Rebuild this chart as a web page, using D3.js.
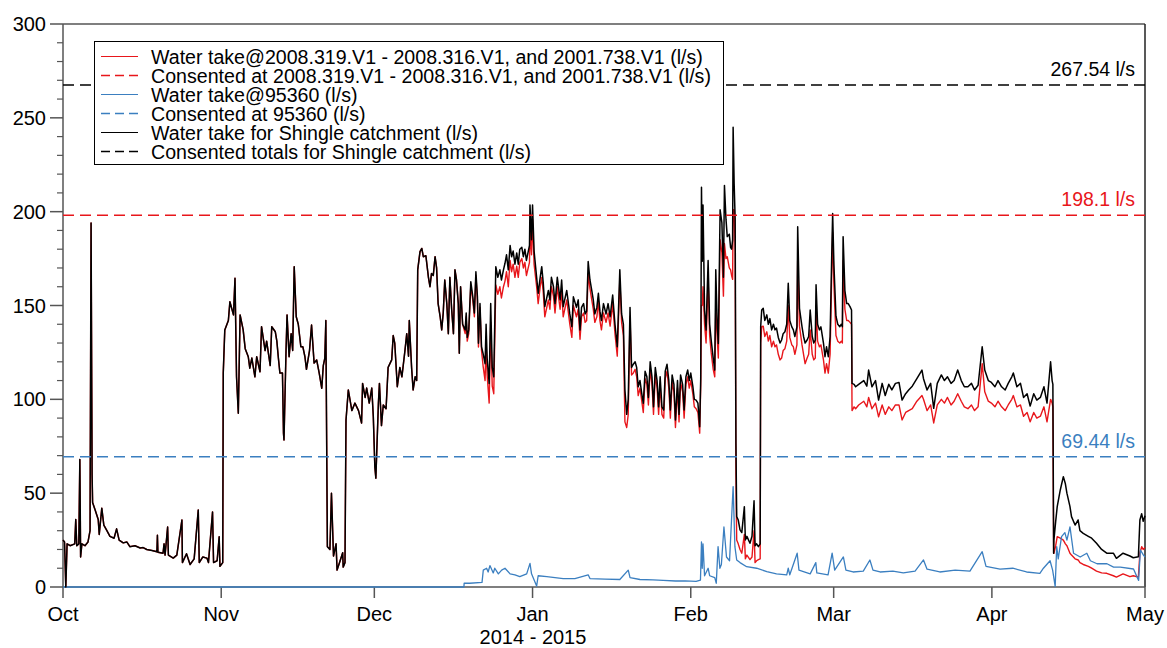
<!DOCTYPE html>
<html>
<head>
<meta charset="utf-8">
<script src="https://cdn.jsdelivr.net/npm/d3@7"></script>
<style>
  html, body { margin: 0; padding: 0; background: #fff; }
  svg { display: block; font-family: "Liberation Sans", Arial, Helvetica, sans-serif; }
</style>
</head>
<body>
<svg id="chart" width="1167" height="648"></svg>
<script>
// ---------------- DATA ----------------
// Days elapsed since 1 Oct 2014 (shared by the total and the red series)
const days = [
  // Oct
  0,0.3,0.55,0.8,1.4,2.3,2.5,2.7,3.1,3.3,
  3.45,3.7,4.3,4.9,5.3,5.5,5.7,5.8,6.3,6.9,
  7.1,7.6,8.0,8.6,9.2,10.0,10.5,11.0,11.8,12.5,
  13.1,14.1,15.1,15.7,16.4,17.4,18.4,18.5,18.6,19.6,
  19.8,20.0,20.5,20.65,21.6,22.3,23.3,23.4,24.2,24.9,
  25.7,26.5,26.7,27.4,28.2,28.5,29.3,29.5,30.2,30.6,
  30.75,31.3,
  // Nov
  31.4,31.7,32.4,32.7,33.4,33.7,34.0,34.35,34.7,35.3,
  35.7,36.3,36.6,37.0,37.6,37.95,38.6,38.9,39.6,39.9,
  40.6,40.9,41.6,41.9,42.2,42.5,43.0,43.2,43.3,43.7,
  43.9,44.3,44.7,45.0,45.3,45.7,46.1,46.6,47.0,47.4,
  47.7,48.3,48.7,49.2,49.7,50.2,50.7,51.0,51.3,51.5,
  51.8,52.3,52.6,53.0,53.5,53.7,54.3,54.8,54.9,55.25,
  55.45,55.9,56.6,57.2,57.9,58.5,58.7,59.2,59.5,60.0,
  60.5,60.8,61.1,61.3,61.8,62.0,62.4,62.75,63.3,63.7,
  // Dec (part 1)
  64.4,64.7,65.0,65.5,66.0,66.4,67.0,67.35,67.7,67.85,
  68.3,68.6,69.0,69.3,69.5,69.95,70.3,70.6,71.1,71.6,
  71.9,72.2,72.55,72.9,73.2,73.5,73.9,74.2,74.5,74.8,
  75.2,75.5,75.8,76.15,76.5,76.8,77.1,77.45,77.65,77.9,
  78.3,
  // Dec (part 2)
  78.8,79.0,79.2,79.5,79.9,80.3,80.6,80.9,81.2,81.4,
  81.7,82.0,82.3,82.7,82.9,83.1,83.5,83.8,84.1,84.4,
  84.8,85.2,85.6,85.9,86.3,86.6,86.9,87.25,87.6,87.9,
  88.2,88.55,88.9,89.2,89.5,89.9,90.2,90.5,90.8,91.4,
  91.5,91.8,92.0,92.3,92.8,
  // Jan
  93.1,93.5,93.8,94.1,94.4,95.1,95.4,95.7,96.1,96.4,
  96.85,97.4,97.7,98.0,98.7,99.3,99.7,100.0,100.6,100.95,
  101.3,101.6,102.0,102.3,102.6,102.9,103.25,103.6,103.9,104.2,
  104.6,104.9,105.2,105.5,105.9,106.4,106.8,107.2,107.7,108.15,
  108.6,109.1,109.45,109.8,110.1,110.45,110.75,111.1,111.4,111.75,
  112.1,112.4,112.7,113.05,113.4,113.7,114.05,114.4,114.7,115.05,
  115.4,115.7,116.05,116.4,116.7,117.0,117.35,117.7,118.0,118.35,
  118.7,119.0,119.35,119.7,120.0,120.4,120.7,121.0,121.4,121.7,
  122.05,122.4,122.7,123.0,123.4,123.7,124.05,124.4,124.75,
  // Feb
  124.95,125.1,125.25,125.4,125.7,126.0,126.4,126.7,127.0,127.4,
  127.7,127.9,128.2,128.4,128.75,129.1,129.4,129.6,129.9,130.15,
  130.55,130.8,131.0,131.2,131.3,131.5,131.7,131.85,132.0,132.3,
  132.65,133.0,133.5,133.7,134.0,134.6,135.0,135.4,135.6,135.9,
  136.25,136.6,136.7,136.9,137.2,137.5,137.9,138.2,138.5,138.85,
  139.2,139.5,139.8,140.15,140.5,140.8,141.1,141.45,141.8,142.1,
  142.4,142.8,143.1,143.4,143.8,143.95,144.3,144.8,145.1,145.4,
  145.8,146.1,146.4,146.8,147.1,147.4,147.55,147.85,148.2,148.5,
  149.0,149.3,149.6,149.95,150.3,150.6,150.8,151.05,151.45,151.8,
  152.2,152.5,152.7,152.85,153.2,153.55,153.85,154.2,154.5,
  // Mar - Apr
  154.6,155.0,155.3,155.9,156.9,157.5,157.85,158.5,159.2,159.8,
  160.5,161.1,161.8,162.4,163.1,163.8,164.4,165.1,165.7,166.4,
  167.3,168.3,168.6,169.3,170.0,170.6,171.3,172.1,172.7,173.3,
  174.0,174.6,175.3,176.0,176.6,177.3,178.0,178.6,179.3,180.1,
  180.6,181.3,181.9,182.6,183.2,183.9,184.6,185.2,185.9,186.2,
  186.9,187.6,188.2,188.9,189.5,190.2,190.8,191.5,192.2,192.8,
  193.5,193.8,193.95,
  // late Apr
  194.1,194.15,194.5,194.8,195.4,196.0,196.4,196.7,197.3,197.6,
  198.3,198.9,199.25,199.9,200.9,201.55,202.5,203.5,204.5,205.8,
  206.4,207.7,209.05,209.7,210.7,211.0,211.35,211.65,212.0
];

// Water take for Shingle catchment (l/s)
const totalTake = [
  25,24,0,23,22,23,36,22,23,68,
  16,23,22,24,30,194,60,45,41,36,
  28,42,33,30,27,26,31,25,23.5,24,
  21.5,22,20.8,21,20,19.5,18.8,27.6,18.5,18,
  23,17,32,17,15.4,17,35.7,13,17.7,12,
  15,41,13,16,15.4,13,40,13,14,26.8,
  11,13,
  114,137,142,152,145,164.5,112,92.6,145,137,
  127,122.7,116.6,122,112,122.7,114.7,138.7,126,131,
  118,138.7,136,131,122,114,114,82,78.3,126,
  145,122.7,135,126,170.7,144,140,128,128,122.7,
  116,126,139.6,119.3,121,114,105.9,118,122,142,
  21.5,20,50,16.5,23,9,14,18.3,10.6,13,
  89,105,94,98,94,87.4,108.5,101,106,98,
  106,90.7,64,58,98,108.5,86,97,95,117,
  121,134,130,106.7,117,112,126,135,123,142,
  117,105,112,110,169,178.7,180.4,176,176.5,165,
  160,167,166,176,170,151,144,137,146,163.6,
  151,135,165,148,135,169,163.6,151,124.5,160,
  140,
  137,146,133,137,162.7,154.6,146,168,154.6,129.9,
  151,128,124.5,119,140,122,108.5,151,117,112,
  170.7,165,169,163.6,169,172.5,177,169,182,176,
  179,172,178,172,180,181,176,180,174,182,
  203.5,185,203.5,179,165,
  156.5,165,170.7,162,149.4,158,153,165,160,151,
  165,153,163.6,149.4,158,145.5,138.7,154.6,149,153,
  137,149,151,145.5,147,173.4,163.6,158,153,145.5,
  149,156.5,147,142,151,145.5,151,144,155.6,140,
  128,169,145.5,140,105,92,100,149,117,118.7,
  120,117,106.7,110,103,97.9,115,112,101,120,
  112,96,117,110,96,112,96,94.3,115,118.7,
  110,94.3,113,108,89,110,92,113,108,94.3,
  112,115.6,110,114,107,100,99.6,98,85.4,
  111,213,173.6,203.5,147.6,137,174,140,131.6,122,
  115.6,169,138.6,129.8,201,194,165,214,196,186.7,
  188,181,180,185,245,215,196,76.6,37.5,35.7,
  30.4,29,42.8,25,27,23.3,27,46,22,23,
  21.5,23,138.7,147.6,148.5,142,145,140,143,137,
  140,137,138,133,130,131.6,135,136,140,161.8,
  142,138.6,137,133.5,138.6,192,148.5,138.6,133.5,130,
  131.6,133.5,147.6,133.5,130,131.6,161,140,137,138.6,
  130,122.7,128,122.7,133.5,174,199,171.6,144.3,140,
  138.7,140,138.7,186.7,158,151,151,149.4,147.6,
  108.5,108,106.7,108,110,107,115.6,106.7,110,99.6,
  108.5,102,108,105,108.5,109,99.6,103,105,107,
  111,115.6,111,105,108.5,95.2,108.5,113,110,112,
  108.5,110,115.6,110,106.7,106.7,108.5,105,107.5,128,
  115.6,110,109,106.7,110,106.7,105,108.5,112,114,
  106.7,108.5,101,103,96.4,103,99.6,101,106.7,98,
  120,110,108,
  18,25,35,42.8,51.7,58.8,55,50,42.8,37.5,
  33,35.7,30,28.6,27,26,23.3,20,18,18,
  15.3,18,16.5,15.6,16.1,35.7,39,35,38
];

// Water take@2008.319.V1 - 2008.316.V1, and 2001.738.V1 (l/s)
const redTake = [
  25,24,0,23,22,23,36,22,23,68,
  16,23,22,24,30,194,60,45,41,36,
  28,42,33,30,27,26,31,25,23.5,24,
  21.5,22,20.8,21,20,19.5,18.8,27.6,18.5,18,
  23,17,32,17,15.4,17,35.7,13,17.7,12,
  15,41,13,16,15.4,13,40,13,14,26.8,
  11,13,
  114,137,142,152,145,164.5,112,92.6,145,137,
  127,122.7,116.6,122,112,122.7,114.7,138.7,126,131,
  118,138.7,136,131,122,114,114,82,78.3,126,
  145,122.7,135,126,170.7,144,140,128,128,122.7,
  116,126,139.6,119.3,121,114,105.9,118,122,142,
  21.5,20,50,16.5,23,9,14,18.3,10.6,13,
  89,105,94,98,94,87.4,108.5,101,106,98,
  106,90.7,64,58,98,108.5,86,97,95,117,
  121,134,130,106.7,117,112,126,135,123,142,
  117,105,112,110,169,178.7,180.4,176,176.5,165,
  160,167,166,176,170,151,144,137,146,163.6,
  151,135,165,148,135,169,163.6,151,124.5,160,
  140,
  135,144,131,135,160.7,152.6,144,166,152.6,127.9,
  149,126,118,110,131,113,98,141,107,103,
  161,156,160,154,160,163,168,160,174,168,
  172,165,171,165,173,175,170,173,166,173,
  190,177,196,172,160,
  151,160,165,157,144,153,148,160,155,146,
  160,148,158,144,153,140,133,150,144,148,
  132,144,146,141,142,167,159,153,148,141,
  144,152,142,137,146,141,146,139,151,135,
  123,164,141,134,88,85,92,144,113,114,
  116,112,102,106,99,93,111,108,97,116,
  108,92,113,106,92,108,92,90,111,115,
  106,90,109,104,85,106,88,109,104,90,
  108,112,106,110,103,96,95,93,82,
  107,150,150,160,140,130,164,134,125,116,
  112,150,132,122,185,178,155,183,175,176,
  170,169,166,164,201,201,180,60,25,23,
  20,18,28,15,17,14.6,16,30,13,14,
  14.6,15,130,138.7,139,133.5,136,131,134,128,
  131,128,129,124,121,122,126,127,131,150,
  133,129,128,124,129,175,139,129,124,119,
  122,124,137,124,121,122,150,131,128,129,
  121,114,119,114,124,164,189,161,134,131,
  130,131,130,174,148,142,142,141,140,
  94,96,95,97,99,96,101,95,98,90.7,
  97,92,96,94,97,97,89,93,94,95,
  99,102,100,94,97,87.4,97,100,98,101,
  97,99,103,99,96,95,97,94,96,119,
  104,99,98,96,99,96,94,97,100,102,
  96,97,91,93,88,93,90,91,96,88,
  100,98,96,
  18,18,22,26.8,26,25,23,22,18,17,
  15,14.4,13,12,11,10,8.5,7.5,7.3,6,
  5.3,7,5.5,6,5.3,18,21.5,20,21
];

// Water take@95360 (l/s): its own time base (days since 1 Oct 2014)
const blueDays = [
  0,78.55,78.6,79.7,82.1,82.35,83.0,83.3,83.65,84.3,
  84.6,85.3,85.95,86.6,87.6,88.55,89.5,90.85,91.5,91.8,
  92.8,93.1,94.8,96.4,98.0,100.3,102.9,103.25,106.2,109.1,
  110.75,111.1,113.05,115.6,117.6,120.0,121.9,124.05,124.9,125.1,
  125.25,125.4,125.7,126.4,126.7,127.7,128.0,128.35,128.7,129.0,
  129.5,130.0,130.6,131.3,131.65,132.0,132.65,133.95,135.9,137.9,
  139.8,141.8,142.1,142.4,143.85,144.2,146.4,147.5,147.7,149.9,
  150.7,151.2,152.9,153.4,154.8,156.8,158.1,158.7,160.1,162.6,
  164.65,166.95,168.6,169.3,171.8,174.8,177.7,180.1,180.85,183.6,
  186.1,188.8,191.4,192.1,193.4,193.9,194.4,194.7,195.0,195.65,
  196.3,196.7,197.3,198.0,199.3,200.6,201.3,202.6,204.55,205.85,
  207.15,209.75,210.75,211.1,211.7,212.0
];
const blueTake = [
  0,0,2,2,2.5,9,10,8,11.4,7.5,
  10,7,9,10,7,6.5,5.5,7,12.6,7,
  0.5,6,5.5,5,4.5,4.5,6.5,4.5,4.2,4,
  9,5,4,3.8,3.5,3.2,3.3,3,3.7,24,
  10,23,6,10,6,5,2,21.5,10,12,
  32,16,14,53.5,21.5,14.4,13,10.8,10,8.2,
  7,6.5,10,6.5,18,9,7,13,7.5,6.5,
  18,9,16,9,8,8.5,14.4,9,8,8.5,
  7.5,8.5,14.4,9.5,8,9,8.5,18.8,11,9.5,
  10,8,7.3,10,14,9,0.3,21.5,15,26.8,
  29,25,32,18,16,18,14,12.4,12.4,10.6,
  10.6,9.6,3.5,19.7,17,16
];

// Consented limits (l/s)
const consentRed = 198.1;
const consentBlue = 69.44;
const consentTotal = 267.54;

const yTicks = [0, 50, 100, 150, 200, 250, 300];
const monthLabels = ["Oct", "Nov", "Dec", "Jan", "Feb", "Mar", "Apr", "May"];
const xTitle = "2014 - 2015";
const legendLabels = [
  "Water take@2008.319.V1 - 2008.316.V1, and 2001.738.V1 (l/s)",
  "Consented at 2008.319.V1 - 2008.316.V1, and 2001.738.V1 (l/s)",
  "Water take@95360 (l/s)",
  "Consented at 95360 (l/s)",
  "Water take for Shingle catchment (l/s)",
  "Consented totals for Shingle catchment (l/s)"
];

// ---------------- DRAWING ----------------
(function () {
const RED = "#e8161b", BLUE = "#3b7fc0", BLACK = "#000000", AXIS = "#555555";
const pL = 63, pR = 1145, pT = 24, pB = 587;
const t0 = Date.UTC(2014, 9, 1), t1 = Date.UTC(2015, 4, 1);
const dayMs = 86400000;
const toDate = d => new Date(t0 + d * dayMs);

const svg = d3.select("#chart");
const x = d3.scaleUtc().domain([new Date(t0), new Date(t1)]).range([pL, pR]);
const y = d3.scaleLinear().domain([0, 300]).range([pB, pT]);

const n = Math.min(days.length, totalTake.length, redTake.length);
const nb = Math.min(blueDays.length, blueTake.length);
const totalPts = d3.range(n).map(i => [toDate(days[i]), totalTake[i]]);
const redPts = d3.range(n).map(i => [toDate(days[i]), redTake[i]]);
const bluePts = d3.range(nb).map(i => [toDate(blueDays[i]), blueTake[i]]);

const line = d3.line().x(d => x(d[0])).y(d => y(d[1]));

const g = svg.append("g");
g.selectAll("line.ymin").data(d3.range(0, 301, 10).filter(v => v % 50 !== 0))
  .join("line").attr("x1", pL - 6).attr("x2", pL)
  .attr("y1", d => y(d)).attr("y2", d => y(d))
  .attr("stroke", AXIS).attr("stroke-width", 1.2);
g.selectAll("line.ymaj").data(yTicks)
  .join("line").attr("x1", pL - 13).attr("x2", pL)
  .attr("y1", d => y(d)).attr("y2", d => y(d))
  .attr("stroke", AXIS).attr("stroke-width", 1.5);
g.selectAll("text.ylab").data(yTicks)
  .join("text").attr("x", pL - 17).attr("y", d => y(d) + 7)
  .attr("text-anchor", "end").attr("font-size", 20).attr("fill", "#000")
  .text(d => d);

const monthDates = d3.utcMonth.range(new Date(t0), new Date(t1 + 1));
g.selectAll("line.xt").data(monthDates)
  .join("line").attr("x1", d => x(d)).attr("x2", d => x(d))
  .attr("y1", pB).attr("y2", pB + 11)
  .attr("stroke", AXIS).attr("stroke-width", 1.5);
g.selectAll("text.xlab").data(monthDates)
  .join("text").attr("x", d => x(d)).attr("y", pB + 34)
  .attr("text-anchor", "middle").attr("font-size", 20).attr("fill", "#000")
  .text((d, i) => monthLabels[i]);
g.append("text").attr("x", 533).attr("y", 644).attr("text-anchor", "middle")
  .attr("font-size", 20).attr("fill", "#000").text(xTitle);

g.append("line").attr("x1", pL).attr("x2", pL).attr("y1", pT).attr("y2", pB)
  .attr("stroke", AXIS).attr("stroke-width", 1.5);
g.append("line").attr("x1", pL).attr("x2", pR).attr("y1", pT).attr("y2", pT)
  .attr("stroke", AXIS).attr("stroke-width", 1.5);
g.append("line").attr("x1", pR).attr("x2", pR).attr("y1", pT).attr("y2", pB)
  .attr("stroke", "#222").attr("stroke-width", 1.5);
g.append("line").attr("x1", pL).attr("x2", pR).attr("y1", pB).attr("y2", pB)
  .attr("stroke", AXIS).attr("stroke-width", 1.5);

const plot = svg.append("g");
plot.append("path").datum(redPts).attr("d", line)
  .attr("fill", "none").attr("stroke", RED).attr("stroke-width", 1.4).attr("stroke-linejoin", "round");
plot.append("path").datum(bluePts).attr("d", line)
  .attr("fill", "none").attr("stroke", BLUE).attr("stroke-width", 1.3).attr("stroke-linejoin", "round");
plot.append("path").datum(totalPts).attr("d", line)
  .attr("fill", "none").attr("stroke", BLACK).attr("stroke-width", 1.5).attr("stroke-linejoin", "round");

const consents = [
  { v: consentTotal, c: BLACK, label: consentTotal + " l/s" },
  { v: consentRed, c: RED, label: consentRed + " l/s" },
  { v: consentBlue, c: BLUE, label: consentBlue + " l/s" }
];
consents.forEach(cn => {
  plot.append("line").attr("x1", pL).attr("x2", pR)
    .attr("y1", y(cn.v)).attr("y2", y(cn.v))
    .attr("stroke", cn.c).attr("stroke-width", 1.5).attr("stroke-dasharray", "11,6");
  plot.append("text").attr("x", 1135).attr("y", y(cn.v) - 9)
    .attr("text-anchor", "end").attr("font-size", 19.5).attr("fill", cn.c)
    .text(cn.label);
});

const lg = svg.append("g");
lg.append("rect").attr("x", 94.5).attr("y", 41.5).attr("width", 629).attr("height", 123)
  .attr("fill", "#fff").attr("stroke", "#000").attr("stroke-width", 1);
const legendStyles = [
  { c: RED, dash: null }, { c: RED, dash: "9,5" },
  { c: BLUE, dash: null }, { c: BLUE, dash: "9,5" },
  { c: BLACK, dash: null }, { c: BLACK, dash: "9,5" }
];
legendLabels.forEach((lab, i) => {
  const cy = 56.5 + i * 19;
  lg.append("line").attr("x1", 101).attr("x2", 138).attr("y1", cy).attr("y2", cy)
    .attr("stroke", legendStyles[i].c).attr("stroke-width", legendStyles[i].dash ? 1.6 : 1.2)
    .attr("stroke-dasharray", legendStyles[i].dash);
  lg.append("text").attr("x", 151).attr("y", cy + 7)
    .attr("font-size", 19.6).attr("fill", "#000").text(lab);
});
})();
</script>
</body>
</html>
